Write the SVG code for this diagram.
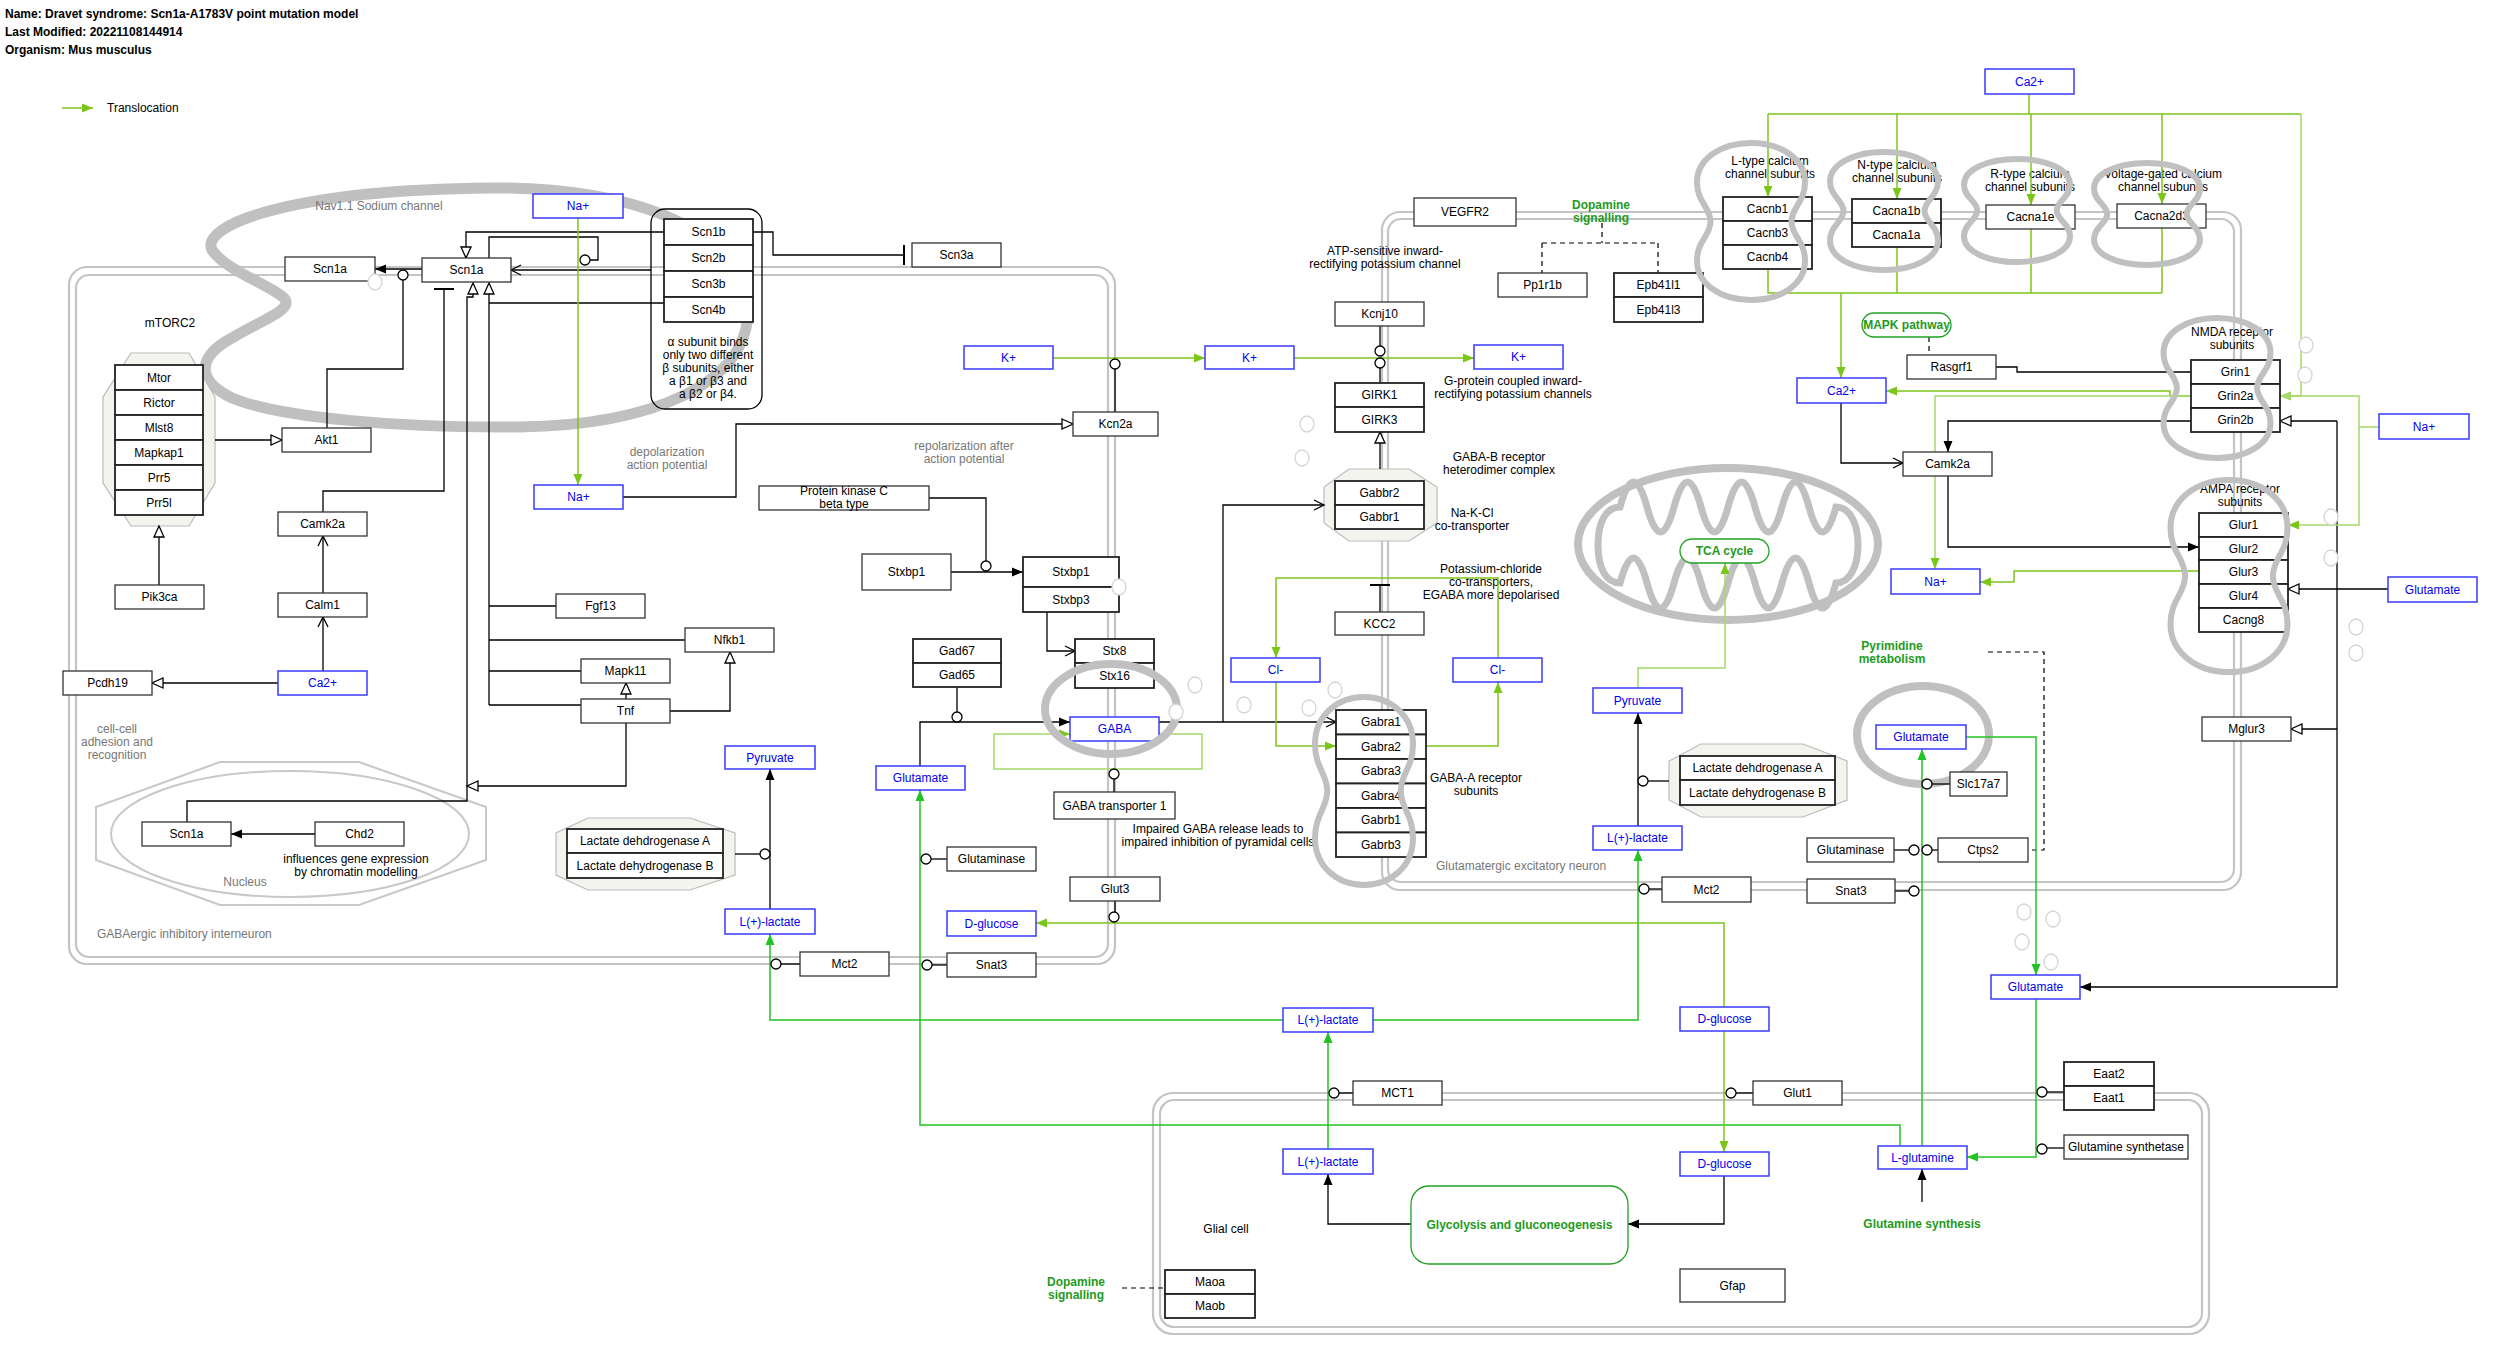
<svg xmlns="http://www.w3.org/2000/svg" width="2507" height="1366" viewBox="0 0 2507 1366">
<defs>
<style>
text{font-family:"Liberation Sans",Arial,sans-serif;font-size:12px;text-anchor:middle;fill:#000}
.lt{text-anchor:start}
.b{font-weight:bold}
.g{fill:#fff;stroke:#333;stroke-width:1.3}
.gc{fill:#fff;stroke:#222;stroke-width:1.8}
.m{fill:#fff;stroke:#3a3aff;stroke-width:1.5}
.tm{fill:#0000ee}
.tg{fill:#777}
.tp{fill:#1e9a1e;font-weight:bold}
.e{fill:none;stroke:#000;stroke-width:1.3}
.tb{fill:none;stroke:#000;stroke-width:2}
.yg{fill:none;stroke:#7cc61a;stroke-width:1.5}
.gr{fill:none;stroke:#22c322;stroke-width:1.5}
.lg{fill:none;stroke:#a5d96a;stroke-width:1.5}
.d{fill:none;stroke:#000;stroke-width:1.2;stroke-dasharray:5,4}
.mem{fill:none;stroke:#c4c4c4;stroke-width:2.2}
.blob{fill:none;stroke:#c0c0c0;stroke-width:6}
.mod{fill:#fff;stroke:#000;stroke-width:1.3}
.anc{fill:#fff;stroke:#d4d4d4;stroke-width:1.3}
.cx{fill:#f4f4ee;stroke:#bbb;stroke-width:1.2}
.pw{fill:#fff;stroke:#22a022;stroke-width:1.3}
</style>
<marker id="aK" markerUnits="userSpaceOnUse" markerWidth="13" markerHeight="11" refX="11" refY="5" orient="auto" overflow="visible"><path d="M0,0.5 L11,5 L0,9.5Z" fill="#000"/></marker>
<marker id="aYG" markerUnits="userSpaceOnUse" markerWidth="13" markerHeight="11" refX="11" refY="5" orient="auto" overflow="visible"><path d="M0,0.5 L11,5 L0,9.5Z" fill="#7cc61a"/></marker>
<marker id="aG" markerUnits="userSpaceOnUse" markerWidth="13" markerHeight="11" refX="11" refY="5" orient="auto" overflow="visible"><path d="M0,0.5 L11,5 L0,9.5Z" fill="#22c322"/></marker>
<marker id="aLG" markerUnits="userSpaceOnUse" markerWidth="13" markerHeight="11" refX="11" refY="5" orient="auto" overflow="visible"><path d="M0,0.5 L11,5 L0,9.5Z" fill="#a5d96a"/></marker>
<marker id="tri" markerUnits="userSpaceOnUse" markerWidth="14" markerHeight="12" refX="12" refY="6" orient="auto" overflow="visible"><path d="M1,1 L12,6 L1,11Z" fill="#fff" stroke="#000" stroke-width="1.3"/></marker>
<marker id="chev" markerUnits="userSpaceOnUse" markerWidth="14" markerHeight="12" refX="11" refY="6" orient="auto" overflow="visible"><path d="M1,1 L11,6 L1,11" fill="none" stroke="#000" stroke-width="1.3"/></marker>
</defs>
<rect x="0" y="0" width="2507" height="1366" fill="#fff"/>

<g id="header">
<text class="lt b" x="5" y="18">Name: Dravet syndrome: Scn1a-A1783V point mutation model</text>
<text class="lt b" x="5" y="36">Last Modified: 20221108144914</text>
<text class="lt b" x="5" y="54">Organism: Mus musculus</text>
<path class="yg" d="M62,108 H93" marker-end="url(#aYG)"/>
<text class="lt" x="107" y="112">Translocation</text>
</g>

<g id="compartments">
<rect class="mem" x="69" y="267" width="1046" height="697" rx="18"/>
<rect class="mem" x="76" y="275" width="1032" height="682" rx="13"/>
<rect class="mem" x="1382" y="212" width="859" height="678" rx="18"/>
<rect class="mem" x="1388" y="219" width="846" height="663" rx="13"/>
<rect class="mem" x="1153" y="1093" width="1056" height="241" rx="20"/>
<rect class="mem" x="1160" y="1100" width="1042" height="227" rx="14"/>
<path d="M490,188 C640,186 748,235 748,310 C748,385 650,425 520,427 C400,428 280,418 232,398 C195,380 200,358 225,342 C260,320 295,310 284,298 C270,285 225,270 212,250 C200,225 290,190 490,188Z" fill="none" stroke="#c0c0c0" stroke-width="11"/>
<polygon points="220,762 359,762 486,807 486,860 359,905 220,905 96,860 96,807" fill="none" stroke="#c8c8c8" stroke-width="2"/>
<ellipse cx="290" cy="834" rx="179" ry="63" fill="none" stroke="#c8c8c8" stroke-width="2"/>
<ellipse cx="1728" cy="544" rx="150" ry="76" fill="none" stroke="#c0c0c0" stroke-width="8"/>
<path d="M1598,545 C1598,522 1606,507 1620,507 Q1633.5,457 1647,507 T1674,507 T1701,507 T1728,507 T1755,507 T1782,507 T1809,507 T1836,507 C1850,507 1858,524 1858,545 C1858,566 1850,583 1836,583 Q1822.5,633 1809,583 T1782,583 T1755,583 T1728,583 T1701,583 T1674,583 T1647,583 T1620,583 C1606,583 1598,568 1598,545Z" fill="none" stroke="#c0c0c0" stroke-width="7"/>
<ellipse cx="1923" cy="735" rx="66" ry="49" fill="none" stroke="#c0c0c0" stroke-width="8"/>
<polygon class="cx" points="131,353 189,353 215,397 215,483 189,526 131,526 103,483 103,397"/>
<polygon class="cx" points="588,818 690,818 735,833 735,875 690,890 588,890 556,875 556,833"/>
<polygon class="cx" points="1701,744 1803,744 1847,761 1847,800 1803,817 1701,817 1669,800 1669,761"/>
<polygon class="cx" points="1349,469 1409,469 1437,487 1437,523 1409,541 1349,541 1324,523 1324,487"/>
<rect x="651" y="209" width="111" height="200" rx="14" fill="none" stroke="#000" stroke-width="1.3"/>
</g>

<g id="labels">
<text class="tg" x="379" y="210">Nav1.1 Sodium channel</text>
<text x="170" y="327">mTORC2</text>
<text class="tg" x="667" y="456">depolarization<tspan x="667" dy="13">action potential</tspan></text>
<text class="tg" x="964" y="450">repolarization after<tspan x="964" dy="13">action potential</tspan></text>
<text class="tg" x="117" y="733">cell-cell<tspan x="117" dy="13">adhesion and</tspan><tspan x="117" dy="13">recognition</tspan></text>
<text class="tg" x="245" y="886">Nucleus</text>
<text x="356" y="863">influences gene expression<tspan x="356" dy="13">by chromatin modelling</tspan></text>
<text class="tg lt" x="97" y="938">GABAergic inhibitory interneuron</text>
<text x="708" y="346">α subunit binds<tspan x="708" dy="13">only two different</tspan><tspan x="708" dy="13">β subunits, either</tspan><tspan x="708" dy="13">a β1 or β3 and</tspan><tspan x="708" dy="13">a β2 or β4.</tspan></text>
<text x="1385" y="255">ATP-sensitive inward-<tspan x="1385" dy="13">rectifying potassium channel</tspan></text>
<text x="1513" y="385">G-protein coupled inward-<tspan x="1513" dy="13">rectifying potassium channels</tspan></text>
<text x="1770" y="165">L-type calcium<tspan x="1770" dy="13">channel subunits</tspan></text>
<text x="1897" y="169">N-type calcium<tspan x="1897" dy="13">channel subunits</tspan></text>
<text x="2030" y="178">R-type calcium<tspan x="2030" dy="13">channel subunits</tspan></text>
<text x="2163" y="178">Voltage-gated calcium<tspan x="2163" dy="13">channel subunits</tspan></text>
<text x="2232" y="336">NMDA receptor<tspan x="2232" dy="13">subunits</tspan></text>
<text x="2240" y="493">AMPA receptor<tspan x="2240" dy="13">subunits</tspan></text>
<text x="1499" y="461">GABA-B receptor<tspan x="1499" dy="13">heterodimer complex</tspan></text>
<text x="1472" y="517">Na-K-Cl<tspan x="1472" dy="13">co-transporter</tspan></text>
<text x="1491" y="573">Potassium-chloride<tspan x="1491" dy="13">co-transporters,</tspan><tspan x="1491" dy="13">EGABA more depolarised</tspan></text>
<text x="1476" y="782">GABA-A receptor<tspan x="1476" dy="13">subunits</tspan></text>
<text x="1218" y="833">Impaired GABA release leads to<tspan x="1218" dy="13">impaired inhibition of pyramidal cells</tspan></text>
<text class="tg lt" x="1436" y="870">Glutamatergic excitatory neuron</text>
<text x="1226" y="1233">Glial cell</text>
</g>

<g id="connectors">
<path class="e" d="M422,269 H375" marker-end="url(#aK)"/>
<path class="e" d="M327,428 V369 H403 V280"/>
<circle class="mod" cx="403" cy="275" r="5"/>
<path class="e" d="M215,440 H282" marker-end="url(#tri)"/>
<path class="e" d="M664,232 H466 V258" marker-end="url(#tri)"/>
<path class="e" d="M489,258 V237 H598 V260 H590"/>
<path class="e" d="M651,270 H511" marker-end="url(#chev)"/>
<path class="e" d="M323,512 V491 H444 V289"/>
<path class="tb" d="M434,289 H454"/>
<path class="e" d="M187,822 V801 H467 V297 H473 V283" marker-end="url(#tri)"/>
<path class="e" d="M626,723 V786 H467" marker-end="url(#tri)"/>
<path class="e" d="M664,303 H489 M556,606 H489 M685,640 H489 M581,671 H489 M581,705 H489"/>
<path class="e" d="M489,705 V283" marker-end="url(#tri)"/>
<path class="e" d="M626,699 V683" marker-end="url(#tri)"/>
<path class="e" d="M670,711 H730 V652" marker-end="url(#tri)"/>
<path class="e" d="M323,593 V536" marker-end="url(#chev)"/>
<path class="e" d="M323,671 V617" marker-end="url(#chev)"/>
<path class="e" d="M278,683 H152" marker-end="url(#tri)"/>
<path class="e" d="M159,585 V526" marker-end="url(#tri)"/>
<path class="e" d="M315,834 H231" marker-end="url(#aK)"/>
<path class="e" d="M753,232 H773 V255 H904"/>
<path class="tb" d="M904,245 V265"/>
<path class="e" d="M623,497 H736 V424 H1073" marker-end="url(#tri)"/>
<path class="e" d="M1115,412 V369"/>
<path class="e" d="M929,498 H986 V561"/>
<path class="e" d="M951,572 H1023" marker-end="url(#aK)"/>
<path class="e" d="M1047,612 V651 H1075" marker-end="url(#chev)"/>
<path class="e" d="M920,766 V722 H1070" marker-end="url(#aK)"/>
<path class="e" d="M957,687 V712"/>
<path class="e" d="M1159,722 H1336" marker-end="url(#chev)"/>
<path class="e" d="M1223,722 V505 H1324" marker-end="url(#chev)"/>
<path class="e" d="M1114,792 V779"/>
<path class="e" d="M770,909 V769" marker-end="url(#aK)"/>
<path class="e" d="M735,854 H760"/>
<path class="e" d="M1638,826 V713" marker-end="url(#aK)"/>
<path class="e" d="M1669,781 H1648"/>
<path class="e" d="M1380,326 V346"/>
<path class="e" d="M1380,383 V368"/>
<path class="e" d="M1380,469 V432" marker-end="url(#tri)"/>
<path class="e" d="M1380,612 V585"/>
<path class="tb" d="M1370,585 H1390"/>
<path class="e" d="M1996,367 H2017 V372 H2191"/>
<path class="e" d="M2191,421 H1948 V452" marker-end="url(#aK)"/>
<path class="e" d="M1841,403 V463 H1903" marker-end="url(#chev)"/>
<path class="e" d="M1948,476 V547 H2199" marker-end="url(#aK)"/>
<path class="e" d="M2388,589 H2288" marker-end="url(#tri)"/>
<path class="e" d="M2337,421 V987 H2080" marker-end="url(#aK)"/>
<path class="e" d="M2337,421 H2280" marker-end="url(#tri)"/>
<path class="e" d="M2337,729 H2291" marker-end="url(#tri)"/>
<path class="e" d="M1950,784 H1932"/>
<path class="e" d="M1894,850 H1909"/>
<path class="e" d="M1938,850 H1932"/>
<path class="e" d="M1895,891 H1909"/>
<path class="e" d="M1662,889 H1649"/>
<path class="e" d="M947,859 H931"/>
<path class="e" d="M947,965 H932"/>
<path class="e" d="M800,964 H781"/>
<path class="e" d="M1115,901 V912"/>
<path class="e" d="M1353,1093 H1339"/>
<path class="e" d="M1753,1093 H1736"/>
<path class="e" d="M2064,1092 H2047"/>
<path class="e" d="M2064,1148 H2047"/>
<path class="e" d="M1411,1224 H1328 V1174" marker-end="url(#aK)"/>
<path class="e" d="M1724,1176 V1224 H1628" marker-end="url(#aK)"/>
<path class="e" d="M1922,1202 V1169" marker-end="url(#aK)"/>
<path class="d" d="M1602,223 V243 M1542,243 H1658 M1542,243 V273 M1658,243 V273"/>
<path class="d" d="M1929,337 V355"/>
<path class="d" d="M1988,652 H2044 V850 H2028"/>
<path class="d" d="M1122,1288 H1165"/>
<path class="yg" d="M578,218 V485" marker-end="url(#aYG)"/>
<path class="yg" d="M1053,358 H1205" marker-end="url(#aYG)"/>
<path class="yg" d="M1294,358 H1474" marker-end="url(#aYG)"/>
<path class="yg" d="M2029,94 V114 M1768,114 H2301"/>
<path class="yg" d="M1768,114 V197" marker-end="url(#aYG)"/>
<path class="yg" d="M1897,114 V199" marker-end="url(#aYG)"/>
<path class="yg" d="M2031,114 V205" marker-end="url(#aYG)"/>
<path class="yg" d="M2162,114 V204" marker-end="url(#aYG)"/>
<path class="lg" d="M2301,114 V396 H2280" marker-end="url(#aLG)"/>
<path class="yg" d="M1768,269 V293 H2162 M1897,247 V293 M2031,229 V293 M2162,228 V293"/>
<path class="yg" d="M1841,293 V378" marker-end="url(#aYG)"/>
<path class="lg" d="M2379,427 H2359 V396 H2280" marker-end="url(#aLG)"/>
<path class="lg" d="M2359,427 V525 H2288" marker-end="url(#aYG)"/>
<path class="yg" d="M2191,396 H2170 V391 H1886" marker-end="url(#aYG)"/>
<path class="lg" d="M2191,396 H1935 V569" marker-end="url(#aYG)"/>
<path class="yg" d="M2199,571 H2014 V582 H1980" marker-end="url(#aYG)"/>
<path class="yg" d="M1498,658 V578 H1276 V658" marker-end="url(#aYG)"/>
<path class="yg" d="M1276,682 V746 H1336" marker-end="url(#aYG)"/>
<path class="yg" d="M1426,746 H1498 V682" marker-end="url(#aYG)"/>
<path class="lg" d="M1638,688 V668 H1725 V563" marker-end="url(#aYG)"/>
<path class="lg" d="M1159,734 H1202 V769 H994 V734 H1070" marker-end="url(#aYG)"/>
<path class="gr" d="M1966,737 H2036 V975" marker-end="url(#aG)"/>
<path class="gr" d="M1922,1146 V749" marker-end="url(#aG)"/>
<path class="gr" d="M2036,999 V1157 H1967" marker-end="url(#aG)"/>
<path class="gr" d="M1900,1146 V1125 H920 V790" marker-end="url(#aG)" stroke="#4ad84a"/>
<path class="gr" d="M1283,1020 H770 V934" marker-end="url(#aG)"/>
<path class="gr" d="M1373,1020 H1638 V850" marker-end="url(#aG)"/>
<path class="gr" d="M1328,1149 V1032" marker-end="url(#aG)"/>
<path class="yg" d="M1724,1007 V923 H1036" marker-end="url(#aYG)"/>
<path class="yg" d="M1724,1031 V1152" marker-end="url(#aYG)"/>
<circle class="mod" cx="585" cy="260" r="5"/>
<circle class="mod" cx="1115" cy="364" r="5"/>
<circle class="mod" cx="986" cy="566" r="5"/>
<circle class="mod" cx="957" cy="717" r="5"/>
<circle class="mod" cx="1114" cy="774" r="5"/>
<circle class="mod" cx="765" cy="854" r="5"/>
<circle class="mod" cx="1643" cy="781" r="5"/>
<circle class="mod" cx="1380" cy="351" r="5"/>
<circle class="mod" cx="1380" cy="363" r="5"/>
<circle class="mod" cx="1927" cy="784" r="5"/>
<circle class="mod" cx="1914" cy="850" r="5"/>
<circle class="mod" cx="1927" cy="850" r="5"/>
<circle class="mod" cx="1914" cy="891" r="5"/>
<circle class="mod" cx="1644" cy="889" r="5"/>
<circle class="mod" cx="926" cy="859" r="5"/>
<circle class="mod" cx="927" cy="965" r="5"/>
<circle class="mod" cx="776" cy="964" r="5"/>
<circle class="mod" cx="1114" cy="917" r="5"/>
<circle class="mod" cx="1334" cy="1093" r="5"/>
<circle class="mod" cx="1731" cy="1093" r="5"/>
<circle class="mod" cx="2042" cy="1092" r="5"/>
<circle class="mod" cx="2042" cy="1149" r="5"/>
</g>

<g id="nodes">
<g id="n-scn1a-l"><rect class="g" x="285" y="257" width="90" height="24"/><text x="330" y="273">Scn1a</text></g>
<g id="n-scn1a-c"><rect class="g" x="422" y="258" width="89" height="24"/><text x="466.5" y="274">Scn1a</text></g>
<g id="n-na-top"><rect class="m" x="533" y="194" width="90" height="24"/><text class="tm" x="578" y="210">Na+</text></g>
<g id="n-scnb"><rect class="gc" x="664" y="219" width="89" height="26"/><text x="708.5" y="236">Scn1b</text><rect class="gc" x="664" y="245" width="89" height="26"/><text x="708.5" y="262">Scn2b</text><rect class="gc" x="664" y="271" width="89" height="26"/><text x="708.5" y="288">Scn3b</text><rect class="gc" x="664" y="297" width="89" height="25"/><text x="708.5" y="314">Scn4b</text></g>
<g id="n-scn3a"><rect class="g" x="912" y="243" width="89" height="24"/><text x="956.5" y="259">Scn3a</text></g>
<g id="n-mtorc2"><rect class="gc" x="115" y="365" width="88" height="25"/><text x="159" y="382">Mtor</text><rect class="gc" x="115" y="390" width="88" height="25"/><text x="159" y="407">Rictor</text><rect class="gc" x="115" y="415" width="88" height="25"/><text x="159" y="432">Mlst8</text><rect class="gc" x="115" y="440" width="88" height="25"/><text x="159" y="457">Mapkap1</text><rect class="gc" x="115" y="465" width="88" height="25"/><text x="159" y="482">Prr5</text><rect class="gc" x="115" y="490" width="88" height="25"/><text x="159" y="507">Prr5l</text></g>
<g id="n-akt1"><rect class="g" x="282" y="428" width="89" height="24"/><text x="326.5" y="444">Akt1</text></g>
<g id="n-camk2a-l"><rect class="g" x="278" y="512" width="89" height="24"/><text x="322.5" y="528">Camk2a</text></g>
<g id="n-calm1"><rect class="g" x="278" y="593" width="89" height="24"/><text x="322.5" y="609">Calm1</text></g>
<g id="n-ca-l"><rect class="m" x="278" y="671" width="89" height="24"/><text class="tm" x="322.5" y="687">Ca2+</text></g>
<g id="n-pcdh19"><rect class="g" x="63" y="671" width="89" height="24"/><text x="107.5" y="687">Pcdh19</text></g>
<g id="n-pik3ca"><rect class="g" x="115" y="585" width="89" height="24"/><text x="159.5" y="601">Pik3ca</text></g>
<g id="n-na-low"><rect class="m" x="534" y="485" width="89" height="24"/><text class="tm" x="578.5" y="501">Na+</text></g>
<g id="n-kcn2a"><rect class="g" x="1073" y="412" width="85" height="24"/><text x="1115.5" y="428">Kcn2a</text></g>
<g id="n-k-left"><rect class="m" x="964" y="346" width="89" height="23"/><text class="tm" x="1008.5" y="361.5">K+</text></g>
<g id="n-k-mid"><rect class="m" x="1205" y="346" width="89" height="23"/><text class="tm" x="1249.5" y="361.5">K+</text></g>
<g id="n-k-right"><rect class="m" x="1474" y="345" width="89" height="24"/><text class="tm" x="1518.5" y="361">K+</text></g>
<g id="n-fgf13"><rect class="g" x="556" y="594" width="89" height="24"/><text x="600.5" y="610">Fgf13</text></g>
<g id="n-nfkb1"><rect class="g" x="685" y="628" width="89" height="24"/><text x="729.5" y="644">Nfkb1</text></g>
<g id="n-mapk11"><rect class="g" x="581" y="659" width="89" height="24"/><text x="625.5" y="675">Mapk11</text></g>
<g id="n-tnf"><rect class="g" x="581" y="699" width="89" height="24"/><text x="625.5" y="715">Tnf</text></g>
<g id="n-pkc"><rect class="g" x="759" y="486" width="170" height="24"/><text x="844" y="495">Protein kinase C<tspan x="844" dy="13">beta type</tspan></text></g>
<g id="n-stxbp1-l"><rect class="g" x="862" y="554" width="89" height="36"/><text x="906.5" y="576">Stxbp1</text></g>
<g id="n-stxbp"><rect class="gc" x="1023" y="557" width="96" height="30"/><text x="1071" y="576">Stxbp1</text><rect class="gc" x="1023" y="587" width="96" height="25"/><text x="1071" y="603.5">Stxbp3</text></g>
<g id="n-stx"><rect class="gc" x="1075" y="639" width="79" height="24"/><text x="1114.5" y="655">Stx8</text><rect class="gc" x="1075" y="663" width="79" height="25"/><text x="1114.5" y="679.5">Stx16</text></g>
<g id="n-gad"><rect class="gc" x="913" y="639" width="88" height="24"/><text x="957" y="655">Gad67</text><rect class="gc" x="913" y="663" width="88" height="24"/><text x="957" y="679">Gad65</text></g>
<g id="n-gaba"><rect class="m" x="1070" y="717" width="89" height="24"/><text class="tm" x="1114.5" y="733">GABA</text></g>
<g id="n-glutamate-l"><rect class="m" x="876" y="766" width="89" height="24"/><text class="tm" x="920.5" y="782">Glutamate</text></g>
<g id="n-gat1"><rect class="g" x="1054" y="792" width="121" height="27"/><text x="1114.5" y="809.5">GABA transporter 1</text></g>
<g id="n-pyruvate-l"><rect class="m" x="725" y="746" width="90" height="23"/><text class="tm" x="770" y="761.5">Pyruvate</text></g>
<g id="n-ldh-l"><rect class="gc" x="567" y="829" width="156" height="24"/><text x="645" y="845">Lactate dehdrogenase A</text><rect class="gc" x="567" y="853" width="156" height="25"/><text x="645" y="869.5">Lactate dehydrogenase B</text></g>
<g id="n-lactate-l"><rect class="m" x="725" y="909" width="90" height="25"/><text class="tm" x="770" y="925.5">L(+)-lactate</text></g>
<g id="n-glutaminase-l"><rect class="g" x="947" y="847" width="89" height="24"/><text x="991.5" y="863">Glutaminase</text></g>
<g id="n-glut3"><rect class="g" x="1070" y="877" width="90" height="24"/><text x="1115" y="893">Glut3</text></g>
<g id="n-dglucose-l"><rect class="m" x="947" y="911" width="89" height="25"/><text class="tm" x="991.5" y="927.5">D-glucose</text></g>
<g id="n-mct2-l"><rect class="g" x="800" y="952" width="89" height="24"/><text x="844.5" y="968">Mct2</text></g>
<g id="n-snat3-l"><rect class="g" x="947" y="953" width="89" height="24"/><text x="991.5" y="969">Snat3</text></g>
<g id="n-scn1a-n"><rect class="g" x="142" y="822" width="89" height="24"/><text x="186.5" y="838">Scn1a</text></g>
<g id="n-chd2"><rect class="g" x="315" y="822" width="89" height="24"/><text x="359.5" y="838">Chd2</text></g>
<g id="n-vegfr2"><rect class="g" x="1414" y="198" width="102" height="28"/><text x="1465" y="216">VEGFR2</text></g>
<g id="n-dopamine-top"><text class="tp" x="1601" y="209">Dopamine<tspan x="1601" dy="13">signalling</tspan></text></g>
<g id="n-pp1r1b"><rect class="g" x="1498" y="273" width="89" height="24"/><text x="1542.5" y="289">Pp1r1b</text></g>
<g id="n-epb41"><rect class="gc" x="1614" y="273" width="89" height="24"/><text x="1658.5" y="289">Epb41l1</text><rect class="gc" x="1614" y="297" width="89" height="25"/><text x="1658.5" y="313.5">Epb41l3</text></g>
<g id="n-kcnj10"><rect class="g" x="1335" y="302" width="89" height="24"/><text x="1379.5" y="318">Kcnj10</text></g>
<g id="n-girk"><rect class="gc" x="1335" y="383" width="89" height="24"/><text x="1379.5" y="399">GIRK1</text><rect class="gc" x="1335" y="407" width="89" height="25"/><text x="1379.5" y="423.5">GIRK3</text></g>
<g id="n-gabbr"><rect class="gc" x="1335" y="481" width="89" height="24"/><text x="1379.5" y="497">Gabbr2</text><rect class="gc" x="1335" y="505" width="89" height="24"/><text x="1379.5" y="521">Gabbr1</text></g>
<g id="n-kcc2"><rect class="g" x="1335" y="612" width="89" height="23"/><text x="1379.5" y="627.5">KCC2</text></g>
<g id="n-cl-l"><rect class="m" x="1231" y="658" width="89" height="24"/><text class="tm" x="1275.5" y="674">Cl-</text></g>
<g id="n-cl-r"><rect class="m" x="1453" y="658" width="89" height="24"/><text class="tm" x="1497.5" y="674">Cl-</text></g>
<g id="n-gabra"><rect class="gc" x="1336" y="710" width="90" height="24.5"/><text x="1381" y="726">Gabra1</text><rect class="gc" x="1336" y="734.5" width="90" height="24.5"/><text x="1381" y="750.5">Gabra2</text><rect class="gc" x="1336" y="759" width="90" height="24.5"/><text x="1381" y="775">Gabra3</text><rect class="gc" x="1336" y="783.5" width="90" height="24.5"/><text x="1381" y="799.5">Gabra4</text><rect class="gc" x="1336" y="808" width="90" height="24.5"/><text x="1381" y="824">Gabrb1</text><rect class="gc" x="1336" y="832.5" width="90" height="24.5"/><text x="1381" y="848.5">Gabrb3</text></g>
<g id="n-cacnb"><rect class="gc" x="1723" y="197" width="89" height="24"/><text x="1767.5" y="213">Cacnb1</text><rect class="gc" x="1723" y="221" width="89" height="24"/><text x="1767.5" y="237">Cacnb3</text><rect class="gc" x="1723" y="245" width="89" height="24"/><text x="1767.5" y="261">Cacnb4</text></g>
<g id="n-cacna1"><rect class="gc" x="1852" y="199" width="89" height="24"/><text x="1896.5" y="215">Cacna1b</text><rect class="gc" x="1852" y="223" width="89" height="24"/><text x="1896.5" y="239">Cacna1a</text></g>
<g id="n-cacna1e"><rect class="g" x="1986" y="205" width="89" height="24"/><text x="2030.5" y="221">Cacna1e</text></g>
<g id="n-cacna2d3"><rect class="g" x="2117" y="204" width="89" height="24"/><text x="2161.5" y="220">Cacna2d3</text></g>
<g id="n-ca-top"><rect class="m" x="1985" y="69" width="89" height="25"/><text class="tm" x="2029.5" y="85.5">Ca2+</text></g>
<g id="n-ca-mid"><rect class="m" x="1797" y="378" width="89" height="25"/><text class="tm" x="1841.5" y="394.5">Ca2+</text></g>
<g id="n-mapk"><rect class="pw" x="1862" y="313" width="89" height="24" rx="12"/><text class="tp" x="1906.5" y="329">MAPK pathway</text></g>
<g id="n-rasgrf1"><rect class="g" x="1907" y="355" width="89" height="24"/><text x="1951.5" y="371">Rasgrf1</text></g>
<g id="n-grin"><rect class="gc" x="2191" y="360" width="89" height="24"/><text x="2235.5" y="376">Grin1</text><rect class="gc" x="2191" y="384" width="89" height="24"/><text x="2235.5" y="400">Grin2a</text><rect class="gc" x="2191" y="408" width="89" height="24"/><text x="2235.5" y="424">Grin2b</text></g>
<g id="n-na-right"><rect class="m" x="2379" y="414" width="90" height="25"/><text class="tm" x="2424" y="430.5">Na+</text></g>
<g id="n-camk2a-r"><rect class="g" x="1903" y="452" width="89" height="24"/><text x="1947.5" y="468">Camk2a</text></g>
<g id="n-na-mid"><rect class="m" x="1891" y="569" width="89" height="25"/><text class="tm" x="1935.5" y="585.5">Na+</text></g>
<g id="n-glur"><rect class="gc" x="2199" y="513" width="89" height="24"/><text x="2243.5" y="529">Glur1</text><rect class="gc" x="2199" y="537" width="89" height="23"/><text x="2243.5" y="552.5">Glur2</text><rect class="gc" x="2199" y="560" width="89" height="24"/><text x="2243.5" y="576">Glur3</text><rect class="gc" x="2199" y="584" width="89" height="24"/><text x="2243.5" y="600">Glur4</text><rect class="gc" x="2199" y="608" width="89" height="24"/><text x="2243.5" y="624">Cacng8</text></g>
<g id="n-glutamate-r"><rect class="m" x="2388" y="577" width="89" height="25"/><text class="tm" x="2432.5" y="593.5">Glutamate</text></g>
<g id="n-mglur3"><rect class="g" x="2202" y="717" width="89" height="24"/><text x="2246.5" y="733">Mglur3</text></g>
<g id="n-tca"><rect class="pw" x="1680" y="539" width="89" height="24" rx="12"/><text class="tp" x="1724.5" y="555">TCA cycle</text></g>
<g id="n-pyruvate-r"><rect class="m" x="1593" y="688" width="89" height="25"/><text class="tm" x="1637.5" y="704.5">Pyruvate</text></g>
<g id="n-ldh-r"><rect class="gc" x="1680" y="756" width="155" height="24"/><text x="1757.5" y="772">Lactate dehdrogenase A</text><rect class="gc" x="1680" y="780" width="155" height="25"/><text x="1757.5" y="796.5">Lactate dehydrogenase B</text></g>
<g id="n-lactate-r"><rect class="m" x="1593" y="826" width="89" height="24"/><text class="tm" x="1637.5" y="842">L(+)-lactate</text></g>
<g id="n-mct2-r"><rect class="g" x="1662" y="877" width="89" height="25"/><text x="1706.5" y="893.5">Mct2</text></g>
<g id="n-glutaminase-r"><rect class="g" x="1807" y="838" width="87" height="24"/><text x="1850.5" y="854">Glutaminase</text></g>
<g id="n-snat3-r"><rect class="g" x="1807" y="879" width="88" height="24"/><text x="1851" y="895">Snat3</text></g>
<g id="n-pyrimidine"><text class="tp" x="1892" y="650">Pyrimidine<tspan x="1892" dy="13">metabolism</tspan></text></g>
<g id="n-glutamate-in"><rect class="m" x="1876" y="725" width="90" height="24"/><text class="tm" x="1921" y="741">Glutamate</text></g>
<g id="n-slc17a7"><rect class="g" x="1950" y="772" width="57" height="24"/><text x="1978.5" y="788">Slc17a7</text></g>
<g id="n-ctps2"><rect class="g" x="1938" y="838" width="90" height="24"/><text x="1983" y="854">Ctps2</text></g>
<g id="n-glutamate-b"><rect class="m" x="1991" y="975" width="89" height="24"/><text class="tm" x="2035.5" y="991">Glutamate</text></g>
<g id="n-lactate-mid"><rect class="m" x="1283" y="1008" width="90" height="24"/><text class="tm" x="1328" y="1024">L(+)-lactate</text></g>
<g id="n-dglucose-mid"><rect class="m" x="1680" y="1007" width="89" height="24"/><text class="tm" x="1724.5" y="1023">D-glucose</text></g>
<g id="n-mct1"><rect class="g" x="1353" y="1081" width="89" height="24"/><text x="1397.5" y="1097">MCT1</text></g>
<g id="n-glut1"><rect class="g" x="1753" y="1081" width="89" height="24"/><text x="1797.5" y="1097">Glut1</text></g>
<g id="n-eaat"><rect class="gc" x="2064" y="1062" width="90" height="24"/><text x="2109" y="1078">Eaat2</text><rect class="gc" x="2064" y="1086" width="90" height="24"/><text x="2109" y="1102">Eaat1</text></g>
<g id="n-lactate-glial"><rect class="m" x="1283" y="1149" width="90" height="25"/><text class="tm" x="1328" y="1165.5">L(+)-lactate</text></g>
<g id="n-dglucose-glial"><rect class="m" x="1680" y="1152" width="89" height="24"/><text class="tm" x="1724.5" y="1168">D-glucose</text></g>
<g id="n-lglutamine"><rect class="m" x="1878" y="1146" width="89" height="23"/><text class="tm" x="1922.5" y="1161.5">L-glutamine</text></g>
<g id="n-gs"><rect class="g" x="2064" y="1135" width="124" height="24"/><text x="2126" y="1151">Glutamine synthetase</text></g>
<g id="n-glnsynth"><text class="tp" x="1922" y="1228">Glutamine synthesis</text></g>
<g id="n-glycolysis"><rect class="pw" x="1411" y="1186" width="217" height="78" rx="18"/><text class="tp" x="1519.5" y="1229">Glycolysis and gluconeogenesis</text></g>
<g id="n-dopamine-bottom"><text class="tp" x="1076" y="1286">Dopamine<tspan x="1076" dy="13">signalling</tspan></text></g>
<g id="n-mao"><rect class="gc" x="1165" y="1270" width="90" height="24"/><text x="1210" y="1286">Maoa</text><rect class="gc" x="1165" y="1294" width="90" height="24"/><text x="1210" y="1310">Maob</text></g>
<g id="n-gfap"><rect class="g" x="1680" y="1269" width="105" height="33"/><text x="1732.5" y="1290">Gfap</text></g>
</g>

<g id="overlays">
<path class="blob" d="M1751,143 C1780.7,143 1805,158.7 1805,182.25 C1805,201.9 1791.5,207.4 1791.5,221.5 C1791.5,235.6 1805,241.1 1805,260.75 C1805,284.3 1780.7,300 1751,300 C1721.3,300 1697,284.3 1697,260.75 C1697,241.1 1710.5,235.6 1710.5,221.5 C1710.5,207.4 1697,201.9 1697,182.25 C1697,158.7 1721.3,143 1751,143Z"/>
<path class="blob" d="M1884,152 C1913.7,152 1938,163.8 1938,181.5 C1938,196.25 1924.5,200.4 1924.5,211 C1924.5,221.6 1938,225.75 1938,240.5 C1938,258.2 1913.7,270 1884,270 C1854.3,270 1830,258.2 1830,240.5 C1830,225.75 1843.5,221.6 1843.5,211 C1843.5,200.4 1830,196.25 1830,181.5 C1830,163.8 1854.3,152 1884,152Z"/>
<path class="blob" d="M2017,159 C2046.15,159 2070,169.3 2070,184.75 C2070,197.6 2056.75,201.2 2056.75,210.5 C2056.75,219.8 2070,223.4 2070,236.25 C2070,251.7 2046.15,262 2017,262 C1987.85,262 1964,251.7 1964,236.25 C1964,223.4 1977.25,219.8 1977.25,210.5 C1977.25,201.2 1964,197.6 1964,184.75 C1964,169.3 1987.85,159 2017,159Z"/>
<path class="blob" d="M2147,163 C2176.15,163 2200,173.2 2200,188.5 C2200,201.25 2186.75,204.8 2186.75,214 C2186.75,223.2 2200,226.75 2200,239.5 C2200,254.8 2176.15,265 2147,265 C2117.85,265 2094,254.8 2094,239.5 C2094,226.75 2107.25,223.2 2107.25,214 C2107.25,204.8 2094,201.25 2094,188.5 C2094,173.2 2117.85,163 2147,163Z"/>
<path class="blob" d="M2217,318 C2246.4,318 2270.5,332 2270.5,353 C2270.5,370.5 2257.1,375.4 2257.1,388 C2257.1,400.6 2270.5,405.5 2270.5,423 C2270.5,444 2246.4,458 2217,458 C2187.6,458 2163.5,444 2163.5,423 C2163.5,405.5 2176.9,400.6 2176.9,388 C2176.9,375.4 2163.5,370.5 2163.5,353 C2163.5,332 2187.6,318 2217,318Z"/>
<path class="blob" d="M2229,480 C2261.2,480 2287.5,499.2 2287.5,528 C2287.5,552 2272.9,558.7 2272.9,576 C2272.9,593.3 2287.5,600 2287.5,624 C2287.5,652.8 2261.2,672 2229,672 C2196.8,672 2170.5,652.8 2170.5,624 C2170.5,600 2185.1,593.3 2185.1,576 C2185.1,558.7 2170.5,552 2170.5,528 C2170.5,499.2 2196.8,480 2229,480Z"/>
<path class="blob" d="M1364,697 C1390.95,697 1413,715.8 1413,744 C1413,767.5 1400.75,774.1 1400.75,791 C1400.75,807.9 1413,814.5 1413,838 C1413,866.2 1390.95,885 1364,885 C1337.05,885 1315,866.2 1315,838 C1315,814.5 1327.25,807.9 1327.25,791 C1327.25,774.1 1315,767.5 1315,744 C1315,715.8 1337.05,697 1364,697Z"/>
<ellipse cx="1111" cy="709" rx="66" ry="45" fill="none" stroke="#c0c0c0" stroke-width="8"/>
<ellipse class="anc" cx="375" cy="282" rx="7" ry="8"/>
<ellipse class="anc" cx="1119" cy="587" rx="7" ry="8"/>
<ellipse class="anc" cx="1195" cy="685" rx="7" ry="8"/>
<ellipse class="anc" cx="1176" cy="712" rx="7" ry="8"/>
<ellipse class="anc" cx="1244" cy="705" rx="7" ry="8"/>
<ellipse class="anc" cx="1335" cy="690" rx="7" ry="8"/>
<ellipse class="anc" cx="1309" cy="708" rx="7" ry="8"/>
<ellipse class="anc" cx="1307" cy="424" rx="7" ry="8"/>
<ellipse class="anc" cx="1302" cy="458" rx="7" ry="8"/>
<ellipse class="anc" cx="2306" cy="345" rx="7" ry="8"/>
<ellipse class="anc" cx="2305" cy="375" rx="7" ry="8"/>
<ellipse class="anc" cx="2331" cy="517" rx="7" ry="8"/>
<ellipse class="anc" cx="2331" cy="558" rx="7" ry="8"/>
<ellipse class="anc" cx="2356" cy="627" rx="7" ry="8"/>
<ellipse class="anc" cx="2356" cy="653" rx="7" ry="8"/>
<ellipse class="anc" cx="2024" cy="912" rx="7" ry="8"/>
<ellipse class="anc" cx="2053" cy="919" rx="7" ry="8"/>
<ellipse class="anc" cx="2022" cy="942" rx="7" ry="8"/>
<ellipse class="anc" cx="2051" cy="962" rx="7" ry="8"/>
</g>
</svg>
